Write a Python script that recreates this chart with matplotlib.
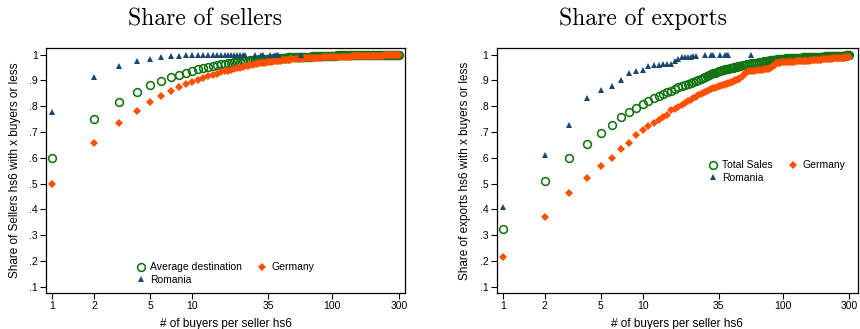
import matplotlib
matplotlib.use("Agg")
import matplotlib.pyplot as plt
from matplotlib.ticker import FixedLocator, FixedFormatter, NullLocator

plt.rcParams['font.family'] = ['Liberation Sans', 'DejaVu Sans']

# ---------------- data ----------------
# number of buyers per seller (categories observed in the data)
buyers = (list(range(1, 51)) + list(range(52, 101, 2)) + list(range(103, 149, 3))
          + list(range(152, 201, 4)) + list(range(205, 301, 5)))

romania_buyers = [1, 2, 3, 4, 5, 6, 7, 8, 9, 10, 11, 12, 13, 14, 15, 16, 17, 18, 19, 20,
                  21, 22, 23, 24, 28, 31, 32, 36, 39, 40, 41, 60]

# Share of sellers
sellers_avg = [
    .598, .751, .818, .855, .881, .899, .912, .922, .930, .937,
    .943, .948, .952, .956, .959, .962, .964, .966, .968, .970,
    .972, .973, .975, .976, .977, .978, .979, .980, .981, .982,
    .982, .983, .983, .984, .984, .985, .985, .986, .986, .987,
    .987, .988, .988, .988, .989, .989, .989, .990, .990, .990,
    .991, .991, .991, .992, .992, .992, .993, .993, .993, .993, .994, .994, .994,
    .994, .995, .995, .995, .995, .995, .996, .996, .996, .996, .996, .996,
    .996, .996, .997, .997, .997, .997, .997, .997, .997, .997, .998, .998, .998, .998, .998, .998,
    .998, .998, .998, .998, .998, .999, .999, .999, .999, .999, .999, .999, .999,
    .999, .999, .999, .999, .999, .999, .999, .999, .999, .999,
    1.0, 1.0, 1.0, 1.0, 1.0, 1.0, 1.0, 1.0, 1.0, 1.0]
sellers_germany = [
    .498, .657, .735, .783, .817, .840, .859, .875, .886, .895,
    .903, .910, .916, .922, .927, .931, .935, .938, .942, .945,
    .948, .950, .953, .955, .957, .959, .961, .963, .964, .966,
    .967, .968, .969, .970, .971, .972, .973, .974, .975, .976,
    .976, .977, .977, .978, .978, .979, .979, .980, .980, .981,
    .982, .982, .983, .984, .985, .985, .986, .986, .987, .987, .987, .988, .988,
    .988, .989, .989, .989, .990, .990, .990, .990, .991, .991, .991, .991,
    .991, .992, .992, .992, .992, .992, .993, .993, .993, .993, .993, .993, .994, .994, .994, .994,
    .994, .994, .994, .995, .995, .995, .995, .995, .995, .995, .996, .996, .996,
    .996, .996, .996, .996, .996, .996, .997, .997, .997, .997,
    .997, .997, .997, .997, .997, .998, .998, .998, .998, .998]
sellers_romania = [.778, .915, .956, .977, .985, .990, .994, .996, .997, .997, .998, .998, .998, .998, .999,
                   .999, .999, .999, .999, .999, .999, .999, .999, 1.0, 1.0, 1.0, 1.0, 1.0, 1.0, 1.0, 1.0, 1.0]

# Share of exports
exports_total = [
    .323, .512, .598, .655, .697, .726, .757, .776, .795, .808,
    .820, .831, .840, .848, .855, .861, .867, .873, .879, .884,
    .888, .892, .896, .899, .902, .906, .910, .914, .918, .922,
    .925, .928, .930, .933, .935, .938, .940, .942, .943, .945,
    .946, .947, .949, .950, .952, .953, .954, .955, .956, .957,
    .959, .961, .963, .965, .966, .967, .968, .969, .970, .972, .973, .974, .975,
    .976, .977, .978, .979, .980, .980, .981, .982, .983, .983, .984, .985,
    .985, .986, .986, .987, .987, .987, .988, .988, .988, .989, .989, .989, .990, .990, .990, .991,
    .991, .991, .991, .992, .992, .992, .992, .993, .993, .993, .993, .993, .994,
    .994, .994, .994, .994, .995, .995, .995, .995, .995, .995,
    .996, .996, .996, .996, .996, .996, .997, .997, .997, .997]
exports_germany = [
    .215, .371, .465, .522, .569, .598, .634, .659, .688, .706,
    .722, .735, .748, .758, .768, .784, .790, .798, .806, .814,
    .820, .826, .832, .837, .842, .847, .851, .856, .860, .864,
    .867, .869, .872, .874, .877, .880, .882, .884, .886, .888,
    .890, .892, .894, .896, .898, .900, .902, .905, .907, .910,
    .918, .928, .934, .935, .936, .937, .938, .939, .940, .941, .942, .943, .944,
    .945, .946, .949, .952, .956, .961, .966, .967, .968, .969, .970, .970,
    .971, .971, .972, .972, .973, .973, .973, .974, .974, .974, .975, .975, .975, .976, .976, .976,
    .977, .977, .978, .978, .979, .979, .980, .980, .981, .981, .982, .982, .983,
    .983, .984, .984, .985, .985, .986, .986, .986, .987, .987,
    .988, .988, .988, .989, .989, .990, .990, .991, .991, .992]
exports_romania = [.411, .611, .726, .831, .864, .880, .901, .928, .935, .940, .957, .960, .961, .962, .963,
                   .965, .975, .985, .990, .992, .993, .993, .994, .994, .997, .997, .998, .998, .998, .999,
                   .999, 1.0]

panels = [
    dict(title="Share of sellers", ylabel="Share of Sellers hs6 with x buyers or less",
         main=sellers_avg, main_label="Average destination", ger=sellers_germany, rom=sellers_romania,
         leg_anchor=(0.5, 0.079), title_x=0.238),
    dict(title="Share of exports", ylabel="Share of exports hs6 with x buyers or less",
         main=exports_total, main_label="Total Sales", ger=exports_germany, rom=exports_romania,
         leg_anchor=(0.777, 0.495), title_x=0.748),
]

x_ticks = [1, 2, 5, 10, 35, 100, 300]
x_tick_labels = ["1", "2", "5", "10", "35", "100", "300"]
y_ticks = [.1, .2, .3, .4, .5, .6, .7, .8, .9, 1.0]
y_tick_labels = [".1", ".2", ".3", ".4", ".5", ".6", ".7", ".8", ".9", "1"]

GREEN = "#127312"
ORANGE = "#ff4f00"
NAVY = "#1a476f"

fig = plt.figure(figsize=(8.6, 3.29), dpi=100)
axes = [fig.add_axes([0.0535, 0.1094, 0.4174, 0.7447]),
        fig.add_axes([0.5776, 0.1094, 0.4198, 0.7447])]
xlims = [(0.902, 331), (0.906, 345)]

for ax, p, xl in zip(axes, panels, xlims):
    hg, = ax.plot(buyers, p["main"], ls="none", marker="o", mfc="none", mec=GREEN, ms=5.6, mew=1.15)
    ho, = ax.plot(buyers, p["ger"], ls="none", marker="D", color=ORANGE, ms=4.0, mew=0)
    hn, = ax.plot(romania_buyers, p["rom"], ls="none", marker="^", color=NAVY, ms=5, mew=0)
    ax.set_xscale("log")
    ax.set_xlim(*xl)
    ax.set_ylim(0.0756, 1.026)
    ax.xaxis.set_major_locator(FixedLocator(x_ticks))
    ax.xaxis.set_major_formatter(FixedFormatter(x_tick_labels))
    ax.xaxis.set_minor_locator(NullLocator())
    ax.yaxis.set_major_locator(FixedLocator(y_ticks))
    ax.yaxis.set_major_formatter(FixedFormatter(y_tick_labels))
    ax.tick_params(axis="both", direction="out", length=4, width=0.8, labelsize=7.5,
                   colors="black", pad=2)
    for s in ax.spines.values():
        s.set_linewidth(0.9)
        s.set_color("black")
    ax.set_xlabel("# of buyers per seller hs6", fontsize=8.5, labelpad=5)
    ax.set_ylabel(p["ylabel"], fontsize=8.5, labelpad=6)
    ax.legend([hg, hn, ho], [p["main_label"], "Romania", "Germany"], ncol=2, loc="center",
              bbox_to_anchor=p["leg_anchor"], frameon=False, fontsize=7.5, handlelength=0.8,
              handletextpad=0.5, columnspacing=1.55, labelspacing=0.25, borderpad=0,
              borderaxespad=0)
    fig.text(p["title_x"], 0.942, p["title"], family="cmr10", fontsize=17, ha="center", va="center")

fig.savefig("out.png", dpi=100)
